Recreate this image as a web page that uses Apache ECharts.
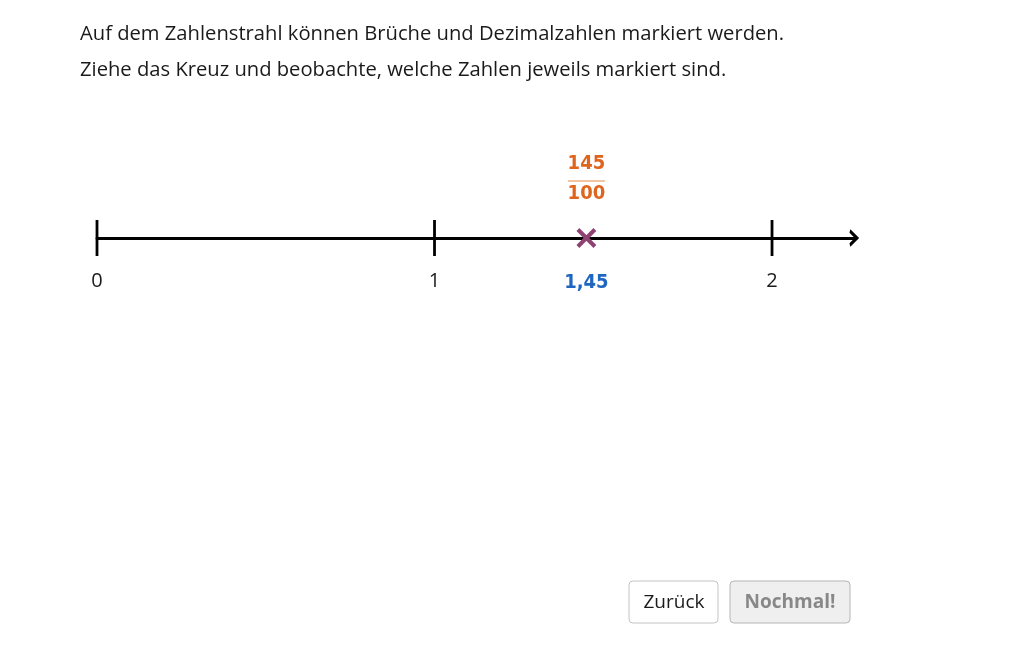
<!DOCTYPE html>
<html><head><meta charset="utf-8">
<style>html,body{margin:0;padding:0;background:#fff}#c{width:1032px;height:645px}</style>
<script src="https://cdn.jsdelivr.net/npm/echarts@6/dist/echarts.min.js"></script>
</head><body><div id="c"></div>
<script>
const introLines = ["Auf dem Zahlenstrahl können Brüche und Dezimalzahlen markiert werden.",
  "Ziehe das Kreuz und beobachte, welche Zahlen jeweils markiert sind."];
const tickValues = [0, 1, 2];
const markedValue = 1.45;
const decimalLabel = "1,45";
const numerator = "145";
const denominator = "100";
const axisEnd = 2.25;
const fontMain = '"Open Sans"';
const fontBold = '"DejaVu Sans Condensed","DejaVu Sans"';
const crossPath = 'path://M0,0L10,10M10,0L0,10';
const arrowPath = 'path://M0,0L5,5L0,10';
const chart = echarts.init(document.getElementById('c'), null, {renderer:'canvas'});
chart.setOption({
  animation:false,
  backgroundColor:'#fff',
  title: introLines.map((t,i)=>({text:t,left:80,top:[24,60][i],padding:0,
    textStyle:{fontFamily:fontMain,fontSize:20.2,fontWeight:'normal',color:'#1a1a1a'}})),
  grid:{left:97,top:138,width:759.4,height:200,containLabel:false},
  xAxis:{type:'value',min:0,max:axisEnd,interval:1,position:'bottom',
    axisLine:{onZero:true,lineStyle:{color:'#000',width:2.8}},
    axisTick:{show:false},splitLine:{show:false},
    axisLabel:{show:false}},
  yAxis:{type:'value',min:-1,max:1,show:false},
  series:[
    {type:'scatter',silent:true,symbol:'rect',symbolSize:[2.8,36],
     data:tickValues.map(v=>[v,0]),
     itemStyle:{color:'#000',opacity:1},
     label:{show:true,position:'bottom',distance:15,formatter:p=>String(p.value[0]),
       fontFamily:fontMain,fontSize:20,color:'#1a1a1a'}},
    {type:'scatter',silent:true,symbol:arrowPath,symbolSize:[7,14],symbolOffset:[-3,0],symbolKeepAspect:false,
     data:[[axisEnd,0]],
     itemStyle:{color:'none',borderColor:'#000',borderWidth:2.8,opacity:1}},
    {type:'scatter',silent:true,symbol:crossPath,symbolSize:17,
     data:[[markedValue,0]],
     itemStyle:{color:'none',borderColor:'#8e4272',borderWidth:4,opacity:1},
     label:{show:true,position:'bottom',distance:24,formatter:decimalLabel,
       fontFamily:fontBold,fontWeight:'bold',fontSize:20,color:'#1f66c1'}},
    {type:'scatter',silent:true,symbol:'rect',symbolSize:[37,1.6],symbolOffset:[0,-57],
     data:[[markedValue,0]],
     itemStyle:{color:'#ecb083',opacity:1},
     label:{show:true,position:'top',distance:-57,offset:[0,-28],formatter:numerator+'\n'+denominator,lineHeight:30,
       fontFamily:fontBold,fontWeight:'bold',fontSize:20,color:'#df651f'}}
  ],
  graphic:[
    {type:'rect',shape:{x:629,y:581,width:89,height:42,r:4},style:{fill:'#fff',stroke:'#c4c4c4',lineWidth:1}},
    {type:'text',x:674,y:603,style:{text:'Zurück',fontFamily:fontMain,fontSize:19,fill:'#1a1a1a',align:'center',verticalAlign:'middle'}},
    {type:'rect',shape:{x:730,y:581,width:120,height:42,r:4},style:{fill:'#efefef',stroke:'#b5b5b5',lineWidth:1}},
    {type:'text',x:790,y:603,style:{text:'Nochmal!',fontFamily:fontMain,fontWeight:'bold',fontSize:19,fill:'#888',align:'center',verticalAlign:'middle'}}
  ]
});
</script></body></html>
